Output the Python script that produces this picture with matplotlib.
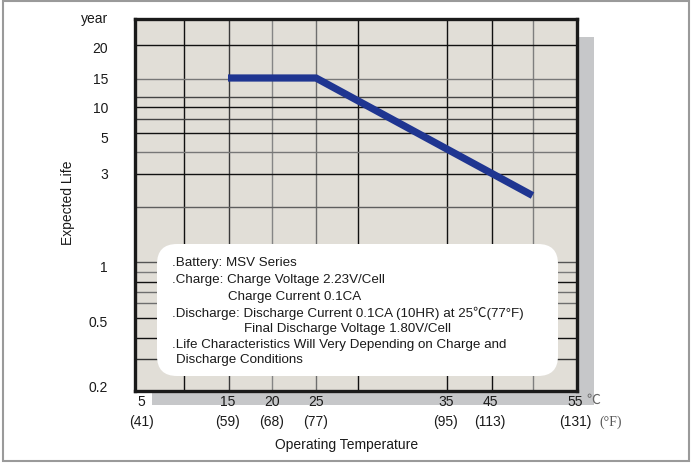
import numpy as np
import matplotlib
matplotlib.use("Agg")
import matplotlib.pyplot as plt
from matplotlib.transforms import Affine2D, blended_transform_factory
from matplotlib.patches import Rectangle, FancyBboxPatch

# ---------------- data ----------------
temp_c = [15, 25, 50]          # operating temperature (deg C)
life_years = [15, 15, 2.3]     # expected life (years)

c_ticks = [5, 15, 20, 25, 35, 45, 55]
c_labels = ["5", "15", "20", "25", "35", "45", "55"]
f_labels = ["(41)", "(59)", "(68)", "(77)", "(95)", "(113)", "(131)"]

y_ticks = [0.2, 0.5, 1, 3, 5, 10, 15, 20]
y_labels = ["0.2", "0.5", "1", "3", "5", "10", "15", "20"]

notes = [
    ".Battery: MSV Series",
    ".Charge: Charge Voltage 2.23V/Cell",
    "Charge Current 0.1CA",
    ".Discharge: Discharge Current 0.1CA (10HR) at 25\u2103(77\u00b0F)",
    "Final Discharge Voltage 1.80V/Cell",
    ".Life Characteristics Will Very Depending on Charge and",
    "Discharge Conditions",
]

# ---------------- layout / style ----------------
W, H = 692, 464
AX_L, AX_R, AX_T, AX_B = 135, 577, 20, 392
# the original's non-uniform axis breakpoints (pixel positions of the tick values)
X_BREAK_PIX = [141, 228, 272, 316, 446, 490, 575]
Y_BREAK_PIX = [387, 322, 267, 174, 138, 108, 79, 48]

BG = "#e1ded7"
SHADOW = "#c6c7c9"
LINE_C = "#1f3591"
FONT = ["Liberation Sans", "Noto Sans CJK JP", "DejaVu Sans"]
plt.rcParams["font.family"] = FONT


def interp_ext(x, xp, fp):
    x = np.asarray(x, float)
    xp = np.asarray(xp, float)
    fp = np.asarray(fp, float)
    y = np.interp(x, xp, fp)
    lo_s = (fp[1] - fp[0]) / (xp[1] - xp[0])
    hi_s = (fp[-1] - fp[-2]) / (xp[-1] - xp[-2])
    y = np.where(x < xp[0], fp[0] + (x - xp[0]) * lo_s, y)
    y = np.where(x > xp[-1], fp[-1] + (x - xp[-1]) * hi_s, y)
    return y


def x_fwd(t):
    return interp_ext(t, c_ticks, X_BREAK_PIX)


def x_inv(p):
    return interp_ext(p, X_BREAK_PIX, c_ticks)


LOGK = np.log10(y_ticks)
NEGP = -np.asarray(Y_BREAK_PIX, float)


def y_fwd(v):
    v = np.clip(np.asarray(v, float), 1e-6, None)
    return interp_ext(np.log10(v), LOGK, NEGP)


def y_inv(q):
    return 10 ** interp_ext(q, NEGP, LOGK)


fig = plt.figure(figsize=(W / 100, H / 100), dpi=100)
px = Affine2D().scale(1 / W, -1 / H).translate(0, 1) + fig.transFigure

# drop shadow behind plot
fig.add_artist(Rectangle((152, 38), 594 - 152, 406 - 38, transform=px,
                         facecolor=SHADOW, edgecolor="none", zorder=-1))
# outer frame
fig.add_artist(Rectangle((3, 2), 686, 460, transform=px, fill=False,
                         edgecolor="#9a9a9a", linewidth=1.5, zorder=5))

ax = fig.add_axes([AX_L / W, 1 - AX_B / H, (AX_R - AX_L) / W, (AX_B - AX_T) / H])
ax.set_facecolor(BG)
ax.set_xscale("function", functions=(x_fwd, x_inv))
ax.set_yscale("function", functions=(y_fwd, y_inv))
ax.set_xlim(float(x_inv(AX_L)), float(x_inv(AX_R)))
ax.set_ylim(float(y_inv(-AX_B)), float(y_inv(-AX_T)))

# grid lines (decorative, irregular as in the original)
vgrid = [(184, "#111111"), (229, "#3a3a3a"), (272, "#858585"), (316, "#6e6e6e"),
         (358, "#111111"), (447, "#111111"), (492, "#111111"), (533, "#7e7e7e")]
hgrid = [(46, "#111111"), (80, "#777777"), (98, "#444444"), (108, "#111111"),
         (120, "#444444"), (134, "#111111"), (153, "#777777"), (175, "#111111"),
         (208, "#5e5e5e"), (263, "#555555"), (273, "#7a7a7a"), (283, "#111111"),
         (293, "#6e6e6e"), (304, "#6e6e6e"), (319, "#111111"), (339, "#111111"),
         (360, "#333333")]
for xg, col in vgrid:
    ax.plot([xg, xg], [AX_T, AX_B], transform=px, color=col, lw=1.0, zorder=1)
for yg, col in hgrid:
    ax.plot([AX_L, AX_R], [yg, yg], transform=px, color=col, lw=1.0, zorder=1)

# life curve
ax.plot(temp_c, life_years, color=LINE_C, lw=5.2, solid_capstyle="butt",
        solid_joinstyle="miter", zorder=3)

# white note box
ax.add_patch(FancyBboxPatch((157, 245), 401, 132, transform=px,
                            boxstyle="round,pad=0,rounding_size=20",
                            facecolor="white", edgecolor="none", zorder=4))
note_x = [171.5, 171.5, 228, 171.5, 243.5, 171.5, 175.5]
note_y = [263, 280.5, 297, 313.5, 329.5, 345, 360.5]
for s, xx, yy in zip(notes, note_x, note_y):
    ax.text(xx, yy, s, transform=px, fontsize=9.6, color="#1a1a1a",
            ha="left", va="center", zorder=5)

# ticks
ax.set_xticks(c_ticks)
ax.set_xticklabels(c_labels)
ax.set_yticks(y_ticks)
ax.set_yticklabels(y_labels)
ax.minorticks_off()
ax.tick_params(axis="both", length=0, labelsize=10, colors="#1a1a1a")
ax.tick_params(axis="x", pad=2.5)
ax.tick_params(axis="y", pad=19.5)

for sp in ax.spines.values():
    sp.set_linewidth(2.4)
    sp.set_color("#1a1a1a")
    sp.set_zorder(6)

# Fahrenheit row
bt = blended_transform_factory(ax.transData, px)
for t, lab in zip(c_ticks, f_labels):
    ax.text(t, 422, lab, transform=bt, fontsize=10, color="#1a1a1a",
            ha="center", va="center", clip_on=False)

fig.text(593, 400, "\u2103", transform=px, fontsize=10, color="#666666",
         ha="center", va="center", family=["Noto Sans CJK JP", "DejaVu Sans"])
fig.text(611, 422, "(\u00b0F)", transform=px, fontsize=10, color="#555555",
         ha="center", va="center", family=["Liberation Serif", "DejaVu Serif"])
fig.text(108, 19, "year", transform=px, fontsize=10, color="#1a1a1a",
         ha="right", va="center")
fig.text(68, 203, "Expected Life", transform=px, fontsize=10, color="#1a1a1a",
         ha="center", va="center", rotation=90)
fig.text(347, 445, "Operating Temperature", transform=px, fontsize=10,
         color="#1a1a1a", ha="center", va="center")

fig.savefig("out.png", dpi=100, facecolor="white")
